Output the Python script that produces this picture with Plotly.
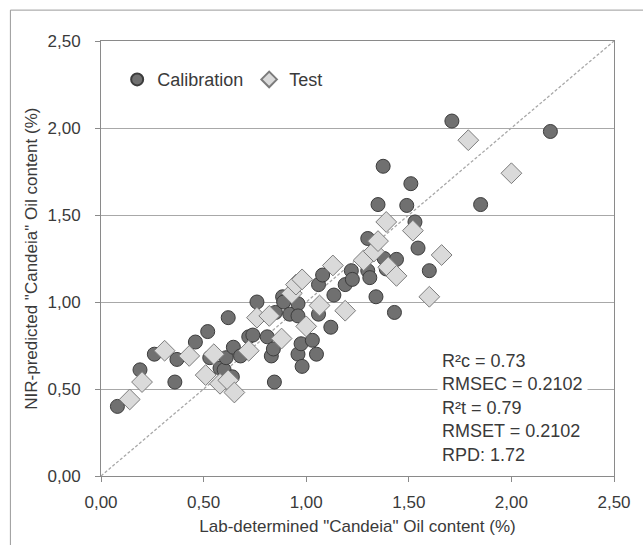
import plotly.graph_objects as go

# Calibration set: lab-determined vs NIR-predicted oil content (%)
cal_lab = [0.08, 0.19, 0.26, 0.36, 0.37, 0.46, 0.52, 0.53, 0.58, 0.60,
           0.61, 0.62, 0.64, 0.645, 0.68, 0.72, 0.74, 0.76, 0.81, 0.83,
           0.84, 0.845, 0.85, 0.885, 0.89, 0.92, 0.96, 0.96, 0.96, 0.975,
           0.98, 1.03, 1.05, 1.06, 1.06, 1.08, 1.12, 1.135, 1.19, 1.22,
           1.225, 1.30, 1.31, 1.30, 1.34, 1.35, 1.375, 1.38, 1.39, 1.43,
           1.44, 1.49, 1.51, 1.53, 1.545, 1.60, 1.71, 1.85, 2.19]
cal_nir = [0.40, 0.61, 0.70, 0.54, 0.67, 0.77, 0.83, 0.68, 0.62, 0.61,
           0.68, 0.91, 0.57, 0.74, 0.69, 0.80, 0.81, 1.00, 0.80, 0.69,
           0.73, 0.54, 0.94, 1.03, 1.00, 0.93, 0.99, 0.92, 0.70, 0.76,
           0.63, 0.78, 0.70, 0.93, 1.10, 1.155, 0.855, 1.04, 1.10, 1.18,
           1.13, 1.18, 1.14, 1.365, 1.03, 1.56, 1.78, 1.25, 1.19, 0.94,
           1.245, 1.555, 1.68, 1.46, 1.31, 1.18, 2.04, 1.56, 1.98]

# Independent test set
test_lab = [0.14, 0.20, 0.31, 0.43, 0.51, 0.55, 0.58, 0.62, 0.65, 0.72,
            0.76, 0.82, 0.88, 0.93, 0.95, 0.98, 1.00, 1.065, 1.13, 1.19,
            1.28, 1.33, 1.35, 1.39, 1.40, 1.44, 1.52, 1.60, 1.66, 1.79,
            2.00]
test_nir = [0.44, 0.54, 0.72, 0.69, 0.58, 0.70, 0.53, 0.55, 0.48, 0.72,
            0.91, 0.92, 0.79, 1.05, 1.10, 1.13, 0.86, 0.98, 1.21, 0.95,
            1.24, 1.29, 1.35, 1.46, 1.20, 1.15, 1.41, 1.03, 1.27, 1.93,
            1.74]

tick_vals = [0, 0.5, 1.0, 1.5, 2.0, 2.5]
tick_text = ["0,00", "0,50", "1,00", "1,50", "2,00", "2,50"]
ideal_line = [0, 2.5]

stats_lines = ["R²c = 0.73", "RMSEC = 0.2102", "R²t = 0.79",
               "RMSET = 0.2102", "RPD: 1.72"]

FONT = "Liberation Sans, Arial, sans-serif"
TXT = "#3a3a3a"
AX = "#8a8a8a"

fig = go.Figure()

# 1:1 reference line
fig.add_trace(go.Scatter(
    x=ideal_line, y=ideal_line, mode="lines", showlegend=False,
    line=dict(color="#a8a8a8", width=1.3, dash="3px,2px"), hoverinfo="skip"))

fig.add_trace(go.Scatter(
    x=cal_lab, y=cal_nir, mode="markers", name="Calibration",
    marker=dict(symbol="circle", size=14, color="#707070",
                line=dict(color="#3c3c3c", width=1))))

fig.add_trace(go.Scatter(
    x=test_lab, y=test_nir, mode="markers", name="Test",
    marker=dict(symbol="diamond", size=16, color="#dadada",
                line=dict(color="#7c7c7c", width=1))))

axis_common = dict(
    range=[0, 2.5], tickvals=tick_vals, ticktext=tick_text,
    ticks="outside", ticklen=5, tickcolor=AX, tickwidth=1,
    showline=True, linecolor=AX, linewidth=1, mirror=True,
    zeroline=False, tickfont=dict(family=FONT, size=17, color=TXT),
)

fig.update_xaxes(
    **axis_common, showgrid=False, ticklabelstandoff=6,
    title=dict(text='Lab-determined "Candeia" Oil content (%)',
               font=dict(family=FONT, size=17, color=TXT), standoff=8))
fig.update_yaxes(
    **axis_common, showgrid=True, gridcolor="#a8a8a8", gridwidth=1,
    ticklabelstandoff=11)

# y-axis title
fig.add_annotation(
    xref="paper", yref="paper", x=-0.136, y=0.5, xanchor="center",
    yanchor="middle", textangle=-90, showarrow=False,
    text='NIR-predicted "Candeia" Oil content (%)',
    font=dict(family=FONT, size=17, color=TXT))

# model statistics box
fig.add_annotation(
    xref="x", yref="y", x=1.635, y=0.745, xanchor="left", yanchor="top",
    text="<br>".join(stats_lines), align="left", showarrow=False,
    font=dict(family=FONT, size=18, color=TXT),
    bgcolor="white", borderpad=4)

# outer chart frame (left and top edges)
fig.add_shape(type="line", xref="paper", yref="paper",
              x0=-0.1766, x1=-0.1766, y0=-0.2, y1=1.071,
              line=dict(color="#9a9a9a", width=1))
fig.add_shape(type="line", xref="paper", yref="paper",
              x0=-0.1766, x1=1.1, y0=1.071, y1=1.071,
              line=dict(color="#9a9a9a", width=1))

fig.update_layout(
    width=643, height=545, autosize=False,
    margin=dict(l=101, r=21, t=41, b=69),
    paper_bgcolor="white", plot_bgcolor="white",
    font=dict(family=FONT, size=17, color=TXT),
    legend=dict(orientation="h", x=0.0315, y=0.911, xanchor="left",
                yanchor="middle", bgcolor="rgba(0,0,0,0)",
                font=dict(family=FONT, size=18, color=TXT),
                entrywidth=87, itemsizing="constant"),
)

fig.write_html("out.html")
